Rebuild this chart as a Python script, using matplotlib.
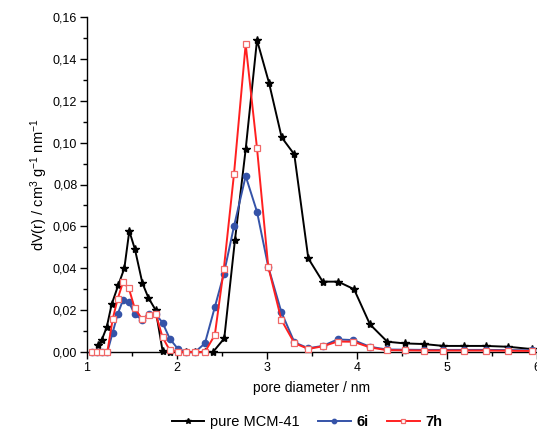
import matplotlib
matplotlib.use("Agg")
import matplotlib.pyplot as plt
from matplotlib.ticker import MultipleLocator, FuncFormatter

plt.rcParams['font.family'] = ['Liberation Sans', 'DejaVu Sans']
plt.rcParams['mathtext.fontset'] = 'custom'
plt.rcParams['mathtext.rm'] = 'Liberation Sans'
plt.rcParams['mathtext.it'] = 'Liberation Sans:italic'
plt.rcParams['mathtext.bf'] = 'Liberation Sans:bold'

# pure MCM-41
x_mcm = [1.12, 1.163, 1.219, 1.274, 1.348, 1.415, 1.47, 1.533, 1.615, 1.681, 1.763, 1.84,
         1.92, 2.01, 2.10, 2.20, 2.31, 2.40, 2.525, 2.644, 2.763, 2.889, 3.022, 3.163, 3.303,
         3.459, 3.619, 3.79, 3.967, 4.144, 4.337, 4.533, 4.744, 4.959, 5.189, 5.433, 5.681, 5.94]
y_mcm = [0.0032, 0.0057, 0.0118, 0.0228, 0.032, 0.040, 0.0578, 0.049, 0.033, 0.026, 0.020, 0.0005,
         0.0, 0.0, 0.0, 0.0, 0.0, 0.0, 0.0065, 0.0535, 0.0968, 0.149, 0.1286, 0.1025, 0.0944,
         0.0447, 0.0336, 0.0336, 0.030, 0.0132, 0.0049, 0.0041, 0.0038, 0.0029, 0.0029, 0.0029, 0.0025, 0.0014]

# common grid for 6i and 7h
x_s = [1.06, 1.115, 1.17, 1.226, 1.285, 1.34, 1.40, 1.465, 1.53, 1.607, 1.689, 1.765, 1.84,
       1.92, 2.01, 2.10, 2.20, 2.31, 2.42, 2.52, 2.633, 2.763, 2.889, 3.014, 3.16, 3.305,
       3.459, 3.619, 3.785, 3.96, 4.144, 4.33, 4.533, 4.744, 4.959, 5.189, 5.433, 5.681, 5.94]
y_6i = [0.0, 0.0, 0.0, 0.0, 0.0092, 0.018, 0.0248, 0.0239, 0.018, 0.0155, 0.018, 0.018, 0.0140,
        0.0063, 0.0015, 0.0, 0.0, 0.0041, 0.0214, 0.0372, 0.060, 0.084, 0.067, 0.0407, 0.019, 0.0046,
        0.0018, 0.0029, 0.0060, 0.0057, 0.0025, 0.0012, 0.0011, 0.0010, 0.0010, 0.0010, 0.0010, 0.0009, 0.0008]
y_7h = [0.0, 0.0, 0.0, 0.0, 0.0156, 0.0253, 0.0333, 0.0304, 0.0209, 0.0160, 0.0177, 0.018, 0.0070,
        0.0008, 0.0, 0.0, 0.0, 0.0, 0.0081, 0.0396, 0.0849, 0.147, 0.0973, 0.0407, 0.0153, 0.0042,
        0.0015, 0.0027, 0.0050, 0.0049, 0.0022, 0.0009, 0.0008, 0.0007, 0.0007, 0.0007, 0.0007, 0.0006, 0.0005]

fig = plt.figure(figsize=(5.37, 4.33), dpi=100)
ax = fig.add_axes([87/537, 81/433, 450/537, 335/433])

ax.plot(x_mcm, y_mcm, color='black', lw=1.4, marker='*', ms=6, mfc='black', mec='black',
        label='pure MCM-41', clip_on=False, zorder=3)
ax.plot(x_s, y_6i, color='#3553a8', lw=1.4, marker='o', ms=4.5, mfc='#3553a8', mec='#3553a8',
        label='6i', clip_on=False, zorder=4)
ax.plot(x_s, y_7h, color='#ff2020', lw=1.4, marker='s', ms=4.5, mfc='white', mec='#f06868',
        mew=0.9, label='7h', clip_on=False, zorder=5)

ax.set_xlim(1, 6)
ax.set_ylim(0, 0.16)
ax.xaxis.set_major_locator(MultipleLocator(1))
ax.xaxis.set_minor_locator(MultipleLocator(0.5))
ax.yaxis.set_major_locator(MultipleLocator(0.02))
ax.yaxis.set_minor_locator(MultipleLocator(0.01))
ax.yaxis.set_major_formatter(FuncFormatter(lambda v, p: f"{v:.2f}".replace('.', ',')))
ax.xaxis.set_major_formatter(FuncFormatter(lambda v, p: f"{v:.0f}"))

for s in ['top', 'right']:
    ax.spines[s].set_visible(False)
for s in ['left', 'bottom']:
    ax.spines[s].set_linewidth(1.0)

ax.tick_params(which='major', direction='out', length=5, width=1.0, labelsize=9, pad=2)
ax.tick_params(which='minor', direction='out', length=3, width=1.0)

ax.set_xlabel('pore diameter / nm', fontsize=10, labelpad=5)
ax.set_ylabel(r'dV(r) / cm$^3$ g$^{-1}$ nm$^{-1}$', fontsize=10.5, labelpad=2)

leg = fig.legend(loc='center', bbox_to_anchor=(0.572, 1 - 422/433), ncol=3, frameon=False,
                 fontsize=10.5, handlelength=2.2, columnspacing=1.3, handletextpad=0.4,
                 markerscale=0.7, borderaxespad=0, borderpad=0)
for t in leg.get_texts():
    if t.get_text() in ('6i', '7h'):
        t.set_fontweight('bold')

fig.savefig('out.png', dpi=100)
